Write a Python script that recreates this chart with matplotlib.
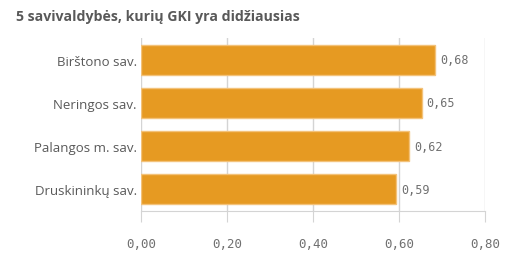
import matplotlib
matplotlib.use("Agg")
import matplotlib.pyplot as plt

# savivaldybės and their GKI values
categories = ["Birštono sav.", "Neringos sav.", "Palangos m. sav.", "Druskininkų sav."]
values = [0.684, 0.653, 0.624, 0.594]
xticks = [0.0, 0.2, 0.4, 0.6, 0.8]

bar_color = "#e69a22"
edge_color = "#f3c27a"
grid_color = "#d4d4d4"
text_color = "#595959"

fig = plt.figure(figsize=(5.13, 2.55), dpi=100)
ax = fig.add_axes([141 / 513, 1 - 212 / 255, (485 - 141) / 513, (212 - 39) / 255])

pos = list(range(len(categories)))
ax.barh(pos, values, height=0.69, color=bar_color, edgecolor=edge_color, linewidth=1, zorder=3)

for p, v in zip(pos, values):
    ax.text(v + 0.011, p, ("%.2f" % v).replace(".", ","), va="center", ha="left",
            fontsize=8.5, color="#707070", family="DejaVu Sans Mono")

ax.set_xlim(0, 0.8)
ax.set_ylim(3.5, -0.5)
ax.set_yticks(pos)
ax.set_yticklabels(categories, fontsize=9.5, color=text_color, family="Open Sans")
ax.set_xticks(xticks)
ax.set_xticklabels([("%.2f" % t).replace(".", ",") for t in xticks],
                   fontsize=9, color="#707070", family="DejaVu Sans Mono")

ax.grid(axis="x", color=grid_color, linewidth=1, zorder=0)
for s in ["top", "right", "left"]:
    ax.spines[s].set_visible(False)
ax.spines["bottom"].set_color(grid_color)
ax.tick_params(axis="y", length=0, pad=3)
ax.tick_params(axis="x", length=8, color=grid_color, pad=11)

fig.text(16 / 513, 1 - 17 / 255, "5 savivaldybės, kurių GKI yra didžiausias",
         fontsize=10.2, fontweight="bold", color=text_color, va="center", ha="left",
         family="Open Sans")

fig.savefig("out.png", dpi=100)
